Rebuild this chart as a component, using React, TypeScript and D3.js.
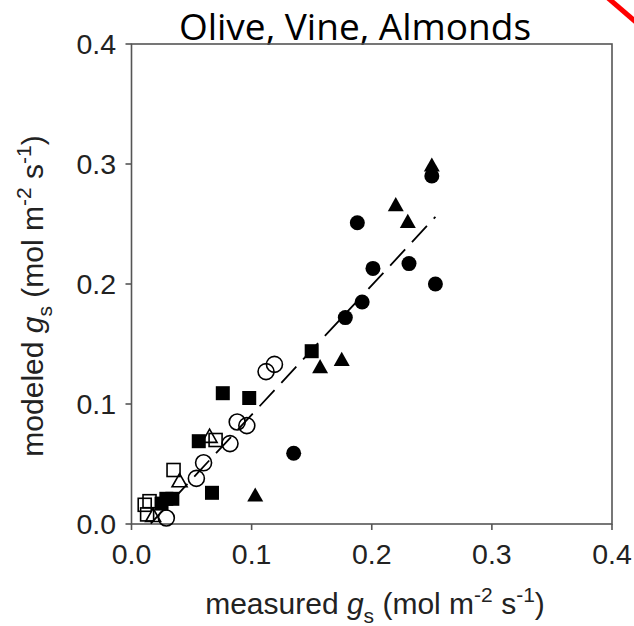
import React from "react";
import * as d3 from "d3";

const filledCircles: [number, number][] = [
  [0.188, 0.251], [0.201, 0.213], [0.231, 0.217], [0.253, 0.2],
  [0.192, 0.185], [0.178, 0.172], [0.25, 0.29], [0.135, 0.059],
];
const filledTriangles: [number, number][] = [
  [0.25, 0.299], [0.22, 0.266], [0.23, 0.252], [0.157, 0.131],
  [0.175, 0.137], [0.103, 0.024],
];
const filledSquares: [number, number][] = [
  [0.15, 0.144], [0.076, 0.109], [0.098, 0.105], [0.056, 0.069],
  [0.067, 0.026], [0.029, 0.021], [0.034, 0.021], [0.025, 0.017],
];
const openCircles: [number, number][] = [
  [0.119, 0.133], [0.112, 0.127], [0.088, 0.085], [0.096, 0.082],
  [0.082, 0.067], [0.06, 0.051], [0.054, 0.038], [0.029, 0.005],
];
const openTriangles: [number, number][] = [
  [0.065, 0.073], [0.04, 0.036], [0.018, 0.007],
];
const openSquares: [number, number][] = [
  [0.07, 0.07], [0.035, 0.045], [0.015, 0.019], [0.011, 0.016], [0.013, 0.008],
];
const fitLine: [number, number][] = [
  [0.016, 0.0004], [0.253, 0.256],
];
const tickValues = [0, 0.1, 0.2, 0.3, 0.4];
const title = "Olive, Vine, Almonds";

const W = 634;
const H = 626;

export default function App() {
  const x = d3.scaleLinear().domain([0, 0.4]).range([131.5, 612]);
  const y = d3.scaleLinear().domain([0, 0.4]).range([524, 44]);
  const fmt = d3.format(".1f");
  const line = d3.line<[number, number]>().x((d) => x(d[0])).y((d) => y(d[1]));
  const tri = (cx: number, cy: number, s: number) => {
    const h = s * 0.88;
    return `M${cx},${cy - h * 0.55} L${cx + s / 2},${cy + h * 0.45} L${cx - s / 2},${cy + h * 0.45} Z`;
  };
  const axisColor = "#555";
  const textColor = "#222";
  const font = "'Liberation Sans', Arial, sans-serif";
  const labelSize = 30;
  const small = 21;

  const unitLabel = (name: string) => (
    <>
      {name} <tspan fontStyle="italic">g</tspan>
      <tspan fontSize={small} dy={9}>s</tspan>
      <tspan dy={-9}> (mol m</tspan>
      <tspan fontSize={small} dy={-12}>-2</tspan>
      <tspan dy={12}> s</tspan>
      <tspan fontSize={small} dy={-12}>-1</tspan>
      <tspan dy={12}>)</tspan>
    </>
  );

  return (
    <svg width={W} height={H} style={{ position: "absolute", left: 0, top: 0, background: "#fff" }}>
      <rect x={0} y={0} width={W} height={H} fill="#fff" />
      {/* title */}
      <text x={355} y={40} textAnchor="middle" fontFamily="'Open Sans', sans-serif" fontSize={37} fill="#000">
        {title}
      </text>
      {/* red mark */}
      <line x1={608} y1={-2} x2={637} y2={23} stroke="#ff0000" strokeWidth={5} />

      {/* frame */}
      <rect x={x(0)} y={y(0.4)} width={x(0.4) - x(0)} height={y(0) - y(0.4)} fill="none" stroke={axisColor} strokeWidth={1.6} />
      {tickValues.map((t) => (
        <g key={"xt" + t}>
          <line x1={x(t)} x2={x(t)} y1={y(0)} y2={y(0) + 6} stroke={axisColor} strokeWidth={1.6} />
          <text x={x(t)} y={564} textAnchor="middle" fontFamily={font} fontSize={28.5} fill={textColor}>
            {fmt(t)}
          </text>
        </g>
      ))}
      {tickValues.map((t) => (
        <g key={"yt" + t}>
          <line x1={x(0) - 6} x2={x(0)} y1={y(t)} y2={y(t)} stroke={axisColor} strokeWidth={1.6} />
          <text x={116} y={y(t) + 10} textAnchor="end" fontFamily={font} fontSize={28.5} fill={textColor}>
            {fmt(t)}
          </text>
        </g>
      ))}

      {/* x label */}
      <text x={375} y={614} textAnchor="middle" fontFamily={font} fontSize={labelSize} fill={textColor}>
        {unitLabel("measured")}
      </text>
      {/* y label */}
      <text transform="translate(43,296) rotate(-90)" textAnchor="middle" fontFamily={font} fontSize={labelSize} fill={textColor}>
        {unitLabel("modeled")}
      </text>

      {/* markers */}
      {openSquares.map((d, i) => (
        <rect key={"os" + i} x={x(d[0]) - 6.5} y={y(d[1]) - 6.5} width={13} height={13} fill="none" stroke="#000" strokeWidth={1.6} />
      ))}
      {openTriangles.map((d, i) => (
        <path key={"ot" + i} d={tri(x(d[0]), y(d[1]), 15)} fill="none" stroke="#000" strokeWidth={1.6} />
      ))}
      {openCircles.map((d, i) => (
        <circle key={"oc" + i} cx={x(d[0])} cy={y(d[1])} r={8} fill="none" stroke="#000" strokeWidth={1.6} />
      ))}
      {filledSquares.map((d, i) => (
        <rect key={"fs" + i} x={x(d[0]) - 7} y={y(d[1]) - 7} width={14} height={14} fill="#000" />
      ))}
      {filledTriangles.map((d, i) => (
        <path key={"ft" + i} d={tri(x(d[0]), y(d[1]), 16)} fill="#000" />
      ))}
      {filledCircles.map((d, i) => (
        <circle key={"fc" + i} cx={x(d[0])} cy={y(d[1])} r={7.5} fill="#000" />
      ))}

      {/* fit line */}
      <path d={line(fitLine) || ""} fill="none" stroke="#000" strokeWidth={1.8} strokeDasharray="22,10" />
    </svg>
  );
}
